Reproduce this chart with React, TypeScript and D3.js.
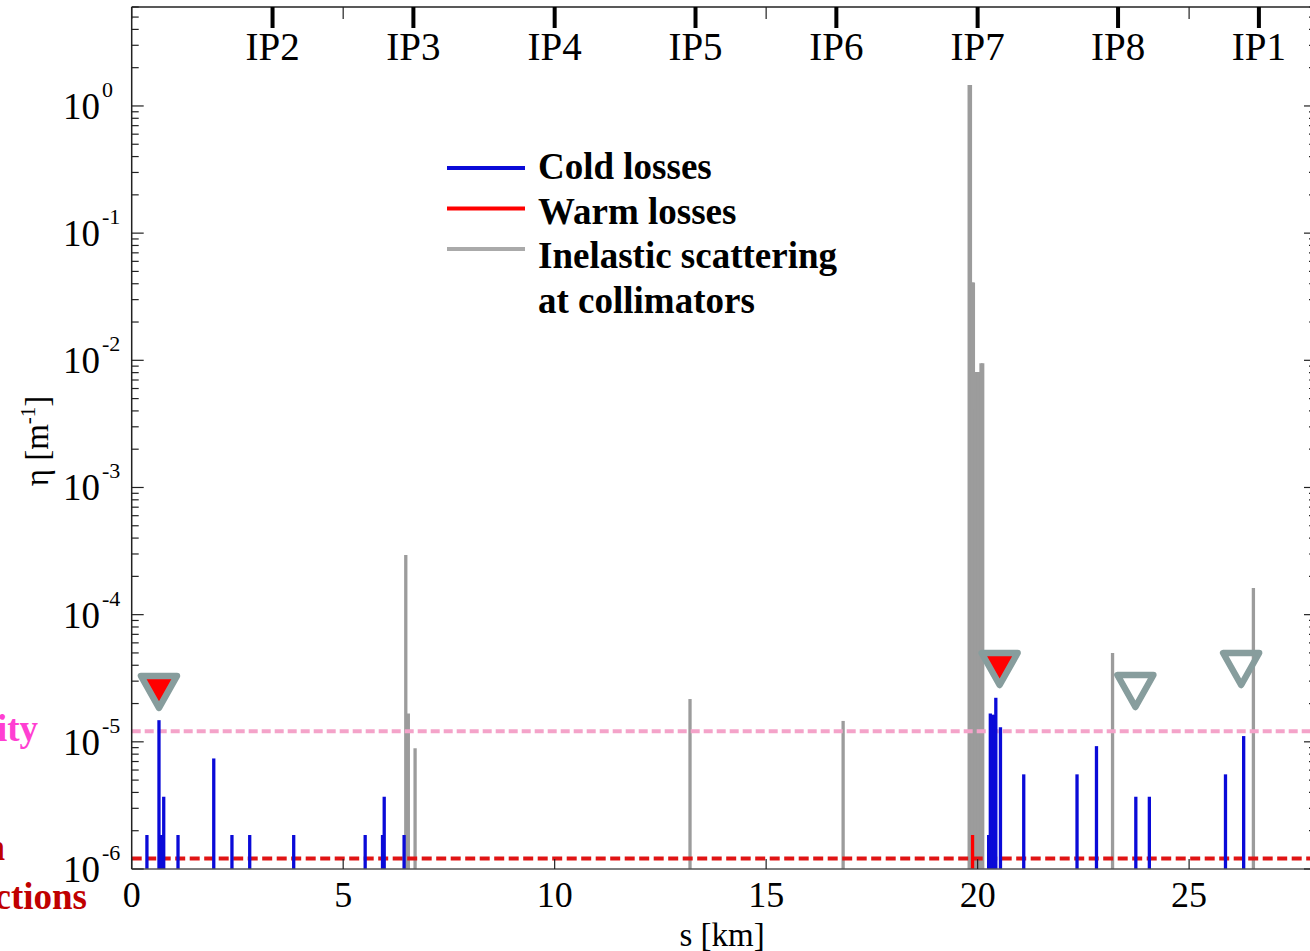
import React from 'react';
import * as d3 from 'd3';

// canvas
const width = 1310;
const height = 951;

// plot frame (pixels)
const plotLeft = 131.7;
const plotRight = 1316;
const plotTop = 7;
const plotBottom = 869;

// axis domains
const sMax = 28;
const etaMin = 1e-6;
const etaMax = 6;

// tick labels
const sTicks = [0, 5, 10, 15, 20, 25];
const ipNames = ['IP2', 'IP3', 'IP4', 'IP5', 'IP6', 'IP7', 'IP8', 'IP1'];
const ipPos = [3.33, 6.66, 10.0, 13.33, 16.66, 20.0, 23.32, 26.65];

// cold losses (blue)
const coldS = [0.36, 0.645, 0.7, 0.757, 1.095, 1.94, 2.37, 2.79, 3.83, 5.52, 5.93, 5.97, 6.44,
  20.26, 20.30, 20.35, 20.39, 20.43, 20.54, 21.09, 22.35, 22.81, 23.74, 24.06, 25.86, 26.29];
const coldEta = [1.85e-6, 1.48e-5, 1.85e-6, 3.7e-6, 1.85e-6, 7.4e-6, 1.85e-6, 1.85e-6, 1.85e-6, 1.85e-6, 1.85e-6, 3.7e-6, 1.85e-6,
  1.85e-6, 1.67e-5, 1.63e-5, 1.63e-5, 2.22e-5, 1.3e-5, 5.55e-6, 5.55e-6, 9.25e-6, 3.7e-6, 3.7e-6, 5.55e-6, 1.11e-5];

// warm losses (red)
const warmS = [19.88];
const warmEta = [1.85e-6];

// inelastic scattering at collimators (grey)
const inelS = [6.48, 6.54, 6.70, 13.2, 16.82,
  19.80, 19.83, 19.87, 19.90, 19.94, 19.97, 20.01, 20.04, 20.08, 20.12,
  23.19, 26.52];
const inelEta = [2.95e-4, 1.67e-5, 8.9e-6, 2.17e-5, 1.46e-5,
  1.46, 1.46, 0.041, 0.041, 0.0042, 0.0081, 0.0081, 0.0081, 0.0095, 0.0095,
  4.99e-5, 1.62e-4];

// thresholds
const quenchEta = 1.21e-5;
const resolutionEta = 1.21e-6;

// triangle markers (tip position)
const markerS = [0.645, 20.52, 23.73, 26.23];
const markerEta = [1.75e-5, 2.65e-5, 1.78e-5, 2.65e-5];
const markerFilled = [true, true, false, false];

// styles
const font = '"Liberation Serif", "Times New Roman", serif';
const coldColor = '#0a0ad8';
const warmColor = '#ff0000';
const inelColor = '#9c9c9c';
const legendGrey = '#aaaaaa';
const quenchColor = '#f4a3c9';
const resolutionColor = '#e01414';
const markerStroke = '#879d9d';
const axisColor = '#222';

const x = d3.scaleLinear().domain([0, sMax]).range([plotLeft, plotRight]);
const y = d3.scaleLog().domain([etaMin, etaMax]).range([plotBottom, plotTop]);

const yTicks = y.ticks().filter((v) => v >= etaMin && v <= etaMax);
const isMajor = (v: number) => Math.abs(Math.log10(v) - Math.round(Math.log10(v))) < 1e-9;

const legendItems = [
  { color: coldColor, lines: ['Cold losses'] },
  { color: warmColor, lines: ['Warm losses'] },
  { color: legendGrey, lines: ['Inelastic scattering', 'at collimators'] },
];

const bar = (s: number, v: number, color: string, key: string, w = 3.3) => (
  <line key={key} x1={x(s)} x2={x(s)} y1={plotBottom} y2={y(v)} stroke={color} strokeWidth={w} />
);

const App = () => (
  <svg
    width={width}
    height={height}
    style={{ position: 'absolute', left: 0, top: 0, background: '#fff' }}
    fontFamily={font}
  >
    {/* grey inelastic bars */}
    {inelS.map((s, i) => bar(s, inelEta[i], inelColor, `g${i}`))}

    {/* threshold lines */}
    <line x1={plotLeft} x2={plotRight} y1={y(quenchEta)} y2={y(quenchEta)}
      stroke={quenchColor} strokeWidth={4} strokeDasharray="9 4" />
    <line x1={plotLeft} x2={plotRight} y1={y(resolutionEta)} y2={y(resolutionEta)}
      stroke={resolutionColor} strokeWidth={4} strokeDasharray="10 4.5" />

    {/* cold and warm losses */}
    {coldS.map((s, i) => bar(s, coldEta[i], coldColor, `c${i}`))}
    {warmS.map((s, i) => bar(s, warmEta[i], warmColor, `w${i}`))}

    {/* axes frame */}
    <line x1={plotLeft} x2={plotLeft} y1={plotTop} y2={plotBottom} stroke={axisColor} strokeWidth={1.5} />
    <line x1={plotRight} x2={plotRight} y1={plotTop} y2={plotBottom} stroke={axisColor} strokeWidth={1.5} />
    <line x1={plotLeft} x2={plotRight} y1={plotTop} y2={plotTop} stroke={axisColor} strokeWidth={1.5} />
    <line x1={plotLeft} x2={plotRight} y1={plotBottom} y2={plotBottom} stroke="#555" strokeWidth={1.5} />

    {/* y ticks */}
    {yTicks.map((v, i) => {
      const len = isMajor(v) ? 12 : 7;
      return (
        <g key={`yt${i}`}>
          <line x1={plotLeft} x2={plotLeft + len} y1={y(v)} y2={y(v)} stroke={axisColor} strokeWidth={1.2} />
          <line x1={plotRight} x2={plotRight - len} y1={y(v)} y2={y(v)} stroke={axisColor} strokeWidth={1.2} />
        </g>
      );
    })}
    {yTicks.filter(isMajor).map((v, i) => (
      <g key={`yl${i}`}>
        <text x={100} y={y(v) + 13} fontSize={37} textAnchor="end">10</text>
        <text x={102} y={y(v) - 9} fontSize={22}>{Math.round(Math.log10(v))}</text>
      </g>
    ))}

    {/* s ticks */}
    {sTicks.map((s) => (
      <g key={`st${s}`}>
        <line x1={x(s)} x2={x(s)} y1={plotBottom} y2={plotBottom - 10} stroke={axisColor} strokeWidth={1.2} />
        <line x1={x(s)} x2={x(s)} y1={plotTop} y2={plotTop + 12} stroke={axisColor} strokeWidth={1.2} />
        <text x={x(s)} y={907} fontSize={36} textAnchor="middle">{s}</text>
      </g>
    ))}

    {/* IP ticks on top */}
    {ipPos.map((s, i) => (
      <g key={`ip${i}`}>
        <line x1={x(s)} x2={x(s)} y1={plotTop} y2={plotTop + 21} stroke="#000" strokeWidth={4} />
        <text x={x(s)} y={60} fontSize={39} textAnchor="middle">{ipNames[i]}</text>
      </g>
    ))}

    {/* axis titles */}
    <text x={722} y={946} fontSize={33} textAnchor="middle">s [km]</text>
    <text transform="translate(48,441) rotate(-90)" fontSize={33} textAnchor="middle">
      η [m<tspan dy={-13} fontSize={21}>-1</tspan><tspan dy={13}>]</tspan>
    </text>

    {/* threshold labels (cut by the page edge) */}
    <text x={38} y={741} fontSize={37} fontWeight="bold" fill="#ff3fd2" textAnchor="end">
      Quench limit at nominal intensity
    </text>
    <text x={5} y={860} fontSize={37} fontWeight="bold" fill="#c00000" textAnchor="end">
      Resolution
    </text>
    <text x={87} y={909} fontSize={37} fontWeight="bold" fill="#c00000" textAnchor="end">
      in warm sections
    </text>

    {/* legend */}
    {legendItems.map((item, i) => (
      <g key={`lg${i}`}>
        <line x1={447} x2={525} y1={168 + i * 40.5} y2={168 + i * 40.5} stroke={item.color} strokeWidth={4} />
        {item.lines.map((t, j) => (
          <text key={j} x={538} y={179 + i * 44.5 + j * 44.5} fontSize={37} fontWeight="bold">{t}</text>
        ))}
      </g>
    ))}

    {/* triangle markers */}
    {markerS.map((s, i) => {
      const tx = x(s);
      const ty = y(markerEta[i]);
      return (
        <path
          key={`m${i}`}
          d={`M${tx - 18},${ty - 35} L${tx + 18},${ty - 35} L${tx},${ty - 3} Z`}
          fill={markerFilled[i] ? '#ff0000' : 'none'}
          stroke={markerStroke}
          strokeWidth={6.5}
          strokeLinejoin="round"
        />
      );
    })}
  </svg>
);

export default App;
